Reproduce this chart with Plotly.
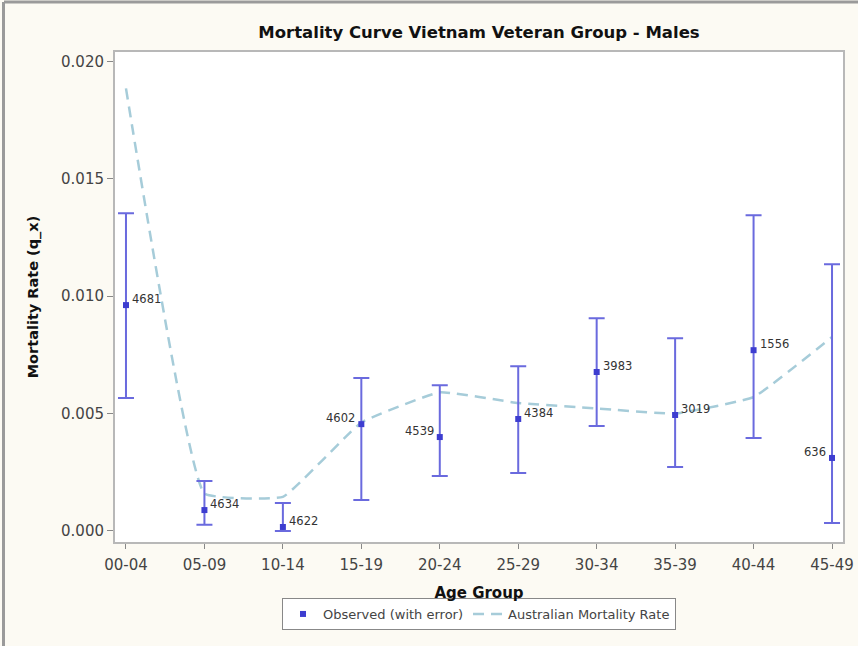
import plotly.graph_objects as go

age_groups = ["00-04", "05-09", "10-14", "15-19", "20-24", "25-29", "30-34", "35-39", "40-44", "45-49"]
observed = [0.00962, 0.00089, 0.00017, 0.00455, 0.00400, 0.00477, 0.00677, 0.00494, 0.00770, 0.00311]
upper = [0.01353, 0.00213, 0.00119, 0.00651, 0.00621, 0.00702, 0.00906, 0.00821, 0.01345, 0.01136]
lower = [0.00566, 0.00026, 0.00000, 0.00132, 0.00234, 0.00247, 0.00447, 0.00272, 0.00396, 0.00034]
counts = ["4681", "4634", "4622", "4602", "4539", "4384", "3983", "3019", "1556", "636"]
label_side = ["right", "right", "right", "left", "left", "right", "right", "right", "right", "left"]
australian = [0.01885, 0.00160, 0.00145, 0.00462, 0.00591, 0.00545, 0.00522, 0.00500, 0.00570, 0.00826]

err_plus = [u - o for u, o in zip(upper, observed)]
err_minus = [o - l for o, l in zip(observed, lower)]
xi = list(range(len(age_groups)))

font_family = "DejaVu Sans, Verdana, sans-serif"

fig = go.Figure()
fig.add_trace(go.Scatter(
    x=xi, y=australian, mode="lines", name="Australian Mortality Rate",
    line=dict(color="#a6ccd9", width=2.5, dash="11px,7px", shape="spline", smoothing=0.3),
))
fig.add_trace(go.Scatter(
    x=xi, y=observed, mode="markers", name="Observed (with error)",
    marker=dict(symbol="square", size=6, color="#3d3dd0"),
    error_y=dict(type="data", array=err_plus, arrayminus=err_minus,
                 color="#6a6ade", thickness=2, width=8),
))

for x, y, t, side in zip(xi, observed, counts, label_side):
    fig.add_annotation(
        x=x, y=y, text=t, showarrow=False,
        xanchor="left" if side == "right" else "right", yanchor="middle",
        xshift=4 if side == "right" else -4, yshift=6,
        font=dict(size=11.5, color="#333333", family=font_family),
    )

fig.update_layout(
    width=858, height=646,
    margin=dict(l=115, r=15, t=52, b=104, autoexpand=False),
    paper_bgcolor="#fcfaf3",
    plot_bgcolor="#ffffff",
    font=dict(family=font_family, size=14, color="#444444"),
    title=dict(text="<b>Mortality Curve Vietnam Veteran Group - Males</b>",
               x=(115 + 843) / 2 / 858, xanchor="center", y=1 - 32 / 646, yanchor="middle",
               font=dict(size=16.5, color="#111111")),
    showlegend=True,
    legend=dict(orientation="h", x=0.5, xanchor="center", y=-88 / 490, yanchor="bottom",
                bordercolor="#888888", borderwidth=1, bgcolor="#ffffff",
                font=dict(size=13, color="#444444"), traceorder="reversed",
                itemwidth=30, tracegroupgap=0),
)
fig.update_xaxes(
    range=[-0.14, 9.14], tickmode="array", tickvals=xi, ticktext=age_groups,
    showgrid=False, zeroline=False, showline=True, linecolor="#b8b8b8", linewidth=2, mirror=True,
    ticks="outside", ticklen=5, tickcolor="#888888", tickfont=dict(size=15),
    ticklabelstandoff=3, automargin=False,
    title=dict(text="<b>Age Group</b>", font=dict(size=15, color="#111111"), standoff=14),
)
fig.update_yaxes(
    range=[-0.00047, 0.0204], tickvals=[0, 0.005, 0.01, 0.015, 0.02], tickformat=".3f",
    showgrid=False, zeroline=False, showline=True, linecolor="#b8b8b8", linewidth=2, mirror=True,
    ticks="outside", ticklen=6, tickcolor="#888888", tickfont=dict(size=15),
    automargin=False,
    title=dict(text="<b>Mortality Rate (q_x)</b>", font=dict(size=14.5, color="#111111"), standoff=19),
)
# outer frame edges (top and left)
fig.add_shape(type="line", xref="paper", yref="paper",
              x0=-111 / 728, x1=1 + 15 / 728, y0=1 + 50 / 490, y1=1 + 50 / 490,
              line=dict(color="#9a9a9a", width=3))
fig.add_shape(type="line", xref="paper", yref="paper",
              x0=-111.5 / 728, x1=-111.5 / 728, y0=-104 / 490, y1=1 + 50 / 490,
              line=dict(color="#9a9a9a", width=3))

fig.write_html("out.html", config={"displayModeBar": False},
               post_script="document.body.style.margin='0';")
